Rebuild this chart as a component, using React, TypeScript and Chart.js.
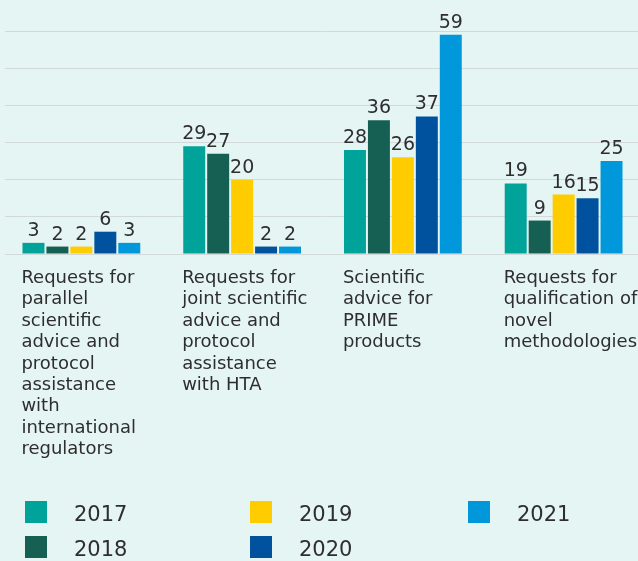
import React, { useEffect, useRef } from "react";
import { Chart, registerables } from "chart.js";

Chart.register(...registerables);

const categories: string[][] = [
  ["Requests for", "parallel", "scientific", "advice and", "protocol", "assistance", "with", "international", "regulators"],
  ["Requests for", "joint scientific", "advice and", "protocol", "assistance", "with HTA"],
  ["Scientific", "advice for", "PRIME", "products"],
  ["Requests for", "qualification of", "novel", "methodologies"],
];

const years = ["2017", "2018", "2019", "2020", "2021"];
const values2017 = [3, 29, 28, 19];
const values2018 = [2, 27, 36, 9];
const values2019 = [2, 20, 26, 16];
const values2020 = [6, 2, 37, 15];
const values2021 = [3, 2, 59, 25];
const yTicks = [0, 10, 20, 30, 40, 50, 60];

const colors = ["#00A39A", "#166053", "#FFCC00", "#00529F", "#0098DB"];
const BG = "#E5F5F3";
const TEXT = "#2E2E2E";
const FONT = "'DejaVu Sans', Verdana, sans-serif";

const gridTrim = {
  id: "gridTrim",
  beforeDatasetsDraw(chart: any) {
    const ctx = chart.ctx;
    ctx.save();
    ctx.fillStyle = BG;
    ctx.fillRect(0, 0, 5, chart.chartArea.bottom + 2);
    ctx.restore();
  },
};

const valueLabels = {
  id: "valueLabels",
  afterDatasetsDraw(chart: any) {
    const ctx = chart.ctx;
    ctx.save();
    ctx.font = `19px ${FONT}`;
    ctx.fillStyle = TEXT;
    ctx.textAlign = "center";
    ctx.textBaseline = "alphabetic";
    chart.data.datasets.forEach((ds: any, di: number) => {
      const meta = chart.getDatasetMeta(di);
      meta.data.forEach((el: any, i: number) => {
        ctx.fillText(String(ds.data[i]), el.x, el.y - 7);
      });
    });
    ctx.restore();
  },
};

const categoryLabels = {
  id: "categoryLabels",
  afterDraw(chart: any) {
    const ctx = chart.ctx;
    const xScale = chart.scales.x;
    ctx.save();
    ctx.font = `18px ${FONT}`;
    ctx.fillStyle = TEXT;
    ctx.textAlign = "left";
    ctx.textBaseline = "alphabetic";
    categories.forEach((lines, i) => {
      const cx = xScale.getPixelForValue(i);
      lines.forEach((line, li) => {
        ctx.fillText(line, cx - 60, 283 + li * 21.4);
      });
    });
    ctx.restore();
  },
};

const customLegend = {
  id: "customLegend",
  afterDraw(chart: any) {
    const ctx = chart.ctx;
    const colX = [25, 250, 468];
    const rowY = [501, 536];
    ctx.save();
    ctx.font = `21px ${FONT}`;
    ctx.textAlign = "left";
    ctx.textBaseline = "alphabetic";
    chart.data.datasets.forEach((ds: any, i: number) => {
      const col = Math.floor(i / 2);
      const row = i % 2;
      const x = colX[col];
      const y = rowY[row];
      ctx.fillStyle = ds.backgroundColor;
      ctx.fillRect(x, y, 22, 22);
      ctx.fillStyle = TEXT;
      ctx.fillText(ds.label, x + 49, y + 19.5);
    });
    ctx.restore();
  },
};

export default function App() {
  const ref = useRef<HTMLCanvasElement | null>(null);

  useEffect(() => {
    document.body.style.margin = "0";
    document.body.style.background = BG;
    if (!ref.current) return;
    const series = [values2017, values2018, values2019, values2020, values2021];
    const chart = new Chart(ref.current, {
      type: "bar",
      data: {
        labels: categories.map((c) => c.join(" ")),
        datasets: years.map((y, i) => ({
          label: y,
          data: series[i],
          backgroundColor: colors[i],
          borderWidth: 0,
          categoryPercentage: 0.745,
          barPercentage: 0.917,
        })),
      },
      options: {
        responsive: false,
        animation: false,
        devicePixelRatio: 1,
        layout: { padding: { left: 1, right: 1, top: 31, bottom: 307 } },
        plugins: {
          legend: { display: false },
          tooltip: { enabled: false },
        },
        scales: {
          x: {
            display: false,
          },
          y: {
            min: 0,
            max: 60,
            afterBuildTicks: (scale: any) => {
              scale.ticks = yTicks.map((v) => ({ value: v }));
            },
            afterFit: (scale: any) => {
              scale.width = 0;
            },
            ticks: { display: false },
            border: { display: false },
            grid: { color: "#D3D9D9", lineWidth: 1, drawTicks: false },
          },
        },
      },
      plugins: [gridTrim, valueLabels, categoryLabels, customLegend],
    });
    return () => chart.destroy();
  }, []);

  return (
    <div style={{ position: "fixed", left: 0, top: 0, width: 638, height: 561, overflow: "hidden", background: BG }}>
      <canvas ref={ref} width={645} height={561} style={{ display: "block" }} />
    </div>
  );
}
